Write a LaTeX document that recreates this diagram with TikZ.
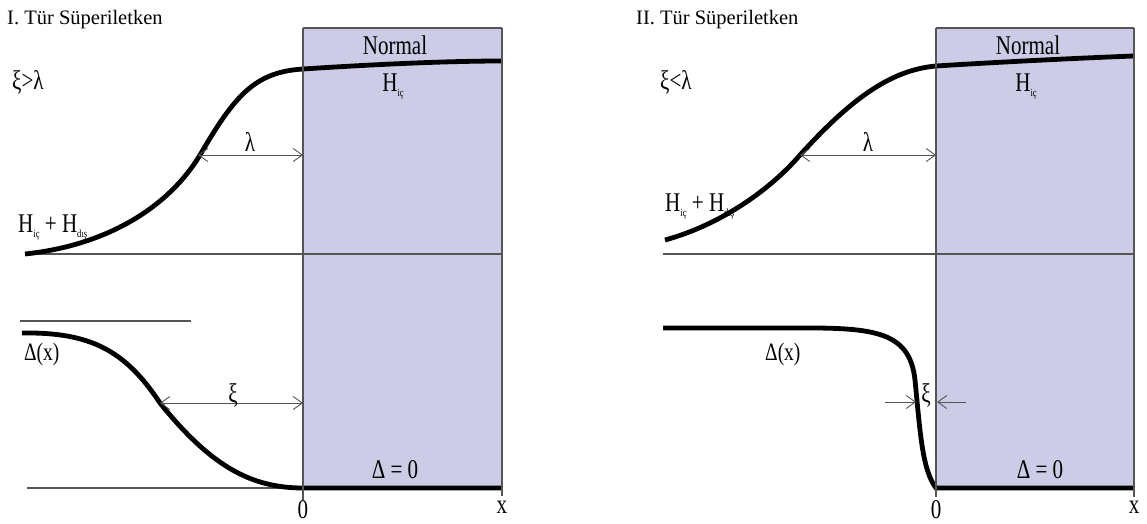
\documentclass[tikz,border=0pt]{standalone}
\usepackage{fontspec}
\setmainfont{Liberation Serif}
\newfontfamily\labfont[FakeStretch=0.78]{Liberation Serif}
\usetikzlibrary{arrows.meta}
\definecolor{normalfill}{RGB}{205,204,230}
\definecolor{linegray}{RGB}{85,85,85}
\newcommand\lsub[1]{\raisebox{-5pt}{\fontsize{11}{11}\selectfont #1}}
\begin{document}
\begin{tikzpicture}[x=1pt,y=-1pt,
  axisline/.style={draw=linegray, line width=1.2pt},
  curvethick/.style={draw=black, line width=4.8pt},
  dimarrow/.style={draw=linegray, line width=0.9pt, {Straight Barb[length=9pt,width=13pt]}-{Straight Barb[length=9pt,width=13pt]}},
  onearrow/.style={draw=linegray, line width=0.9pt, -{Straight Barb[length=9pt,width=13pt]}},
  lab/.style={inner sep=0pt, anchor=base, font=\labfont\fontsize{27}{30}\selectfont},
  ttl/.style={inner sep=0pt, anchor=base west, font=\fontsize{20.5}{24}\selectfont}]
\useasboundingbox (0,0) rectangle (1147,524);
% ---------- normal regions ----------
\fill[normalfill] (303,28) rectangle (502,488);
\fill[normalfill] (936,28) rectangle (1134,488);
\draw[axisline] (303,28) -- (502,28);
\draw[axisline] (936,28) -- (1134,28);
% ---------- left panel ----------
\draw[axisline] (25,254) -- (502,254);
\draw[axisline] (20,321) -- (191,321);
\draw[axisline] (27,488) -- (303,488);
\draw[curvethick] (25,254) .. controls (110,245) and (170,205) .. (200,155)
  .. controls (235,95) and (255,72) .. (303,69)
  .. controls (380,64) and (450,61) .. (502,61);
\draw[curvethick] (22,333) .. controls (90,332) and (125,350) .. (160,403)
  .. controls (210,465) and (250,488) .. (303,488) -- (502,488);
\draw[axisline] (303,28) -- (303,500);
\draw[axisline] (502,28) -- (502,496);
\coordinate (lamL1) at (198,155);
\coordinate (lamL2) at (303,155);
\draw[dimarrow] (lamL1) -- (lamL2);
\coordinate (xiL1) at (160,403);
\coordinate (xiL2) at (303,403);
\draw[dimarrow] (xiL1) -- (xiL2);
\node[ttl] (titleL) at (7,25) {I. Tür Süperiletken};
\node[lab, anchor=base west] (condL) at (12,90) {ξ>λ};
\node[lab] (normalL) at (395,55) {Normal};
\node[lab] (hicL) at (393,92) {H\lsub{iç}};
\node[lab, anchor=base west] (hsumL) at (18,232) {H\lsub{iç} + H\lsub{dış}};
\node[lab] (lamLabL) at (250,151) {λ};
\node[lab] (xiLabL) at (233,402) {ξ};
\node[lab, anchor=base west, font=\labfont\fontsize{25}{28}\selectfont] (delL) at (24,360) {Δ(x)};
\node[lab] (delzL) at (395,478) {Δ = 0};
\node[lab] (zeroL) at (303,518) {0};
\node[lab] (xL) at (502,513) {x};
% ---------- right panel ----------
\draw[axisline] (663,254) -- (1134,254);
\draw[curvethick] (665,240) .. controls (720,225) and (770,190) .. (800,155)
  .. controls (850,100) and (890,70) .. (936,66)
  .. controls (1000,62) and (1080,58) .. (1134,56);
\draw[curvethick] (663,328) -- (810,328) .. controls (880,328) and (910,335) .. (915,380)
  .. controls (920,430) and (922,470) .. (936,488) -- (1134,488);
\draw[axisline] (936,28) -- (936,497);
\draw[axisline] (1134,28) -- (1134,497);
\coordinate (lamR1) at (800,155);
\coordinate (lamR2) at (936,155);
\draw[dimarrow] (lamR1) -- (lamR2);
\coordinate (xiRa) at (885,402);
\coordinate (xiRb) at (916,402);
\coordinate (xiRc) at (966,402);
\coordinate (xiRd) at (937,402);
\draw[onearrow] (xiRa) -- (xiRb);
\draw[onearrow] (xiRc) -- (xiRd);
\node[ttl] (titleR) at (636,25) {II. Tür Süperiletken};
\node[lab, anchor=base west] (condR) at (660,90) {ξ<λ};
\node[lab] (normalR) at (1028,55) {Normal};
\node[lab] (hicR) at (1026,92) {H\lsub{iç}};
\node[lab, anchor=base west] (hsumR) at (665,211) {H\lsub{iç} + H\lsub{dış}};
\node[lab] (lamLabR) at (868,151) {λ};
\node[lab] (xiLabR) at (926,402) {ξ};
\node[lab, anchor=base west, font=\labfont\fontsize{25}{28}\selectfont] (delR) at (765,360) {Δ(x)};
\node[lab] (delzR) at (1040,478) {Δ = 0};
\node[lab] (zeroR) at (936,518) {0};
\node[lab] (xR) at (1134,513) {x};
\end{tikzpicture}
\end{document}
